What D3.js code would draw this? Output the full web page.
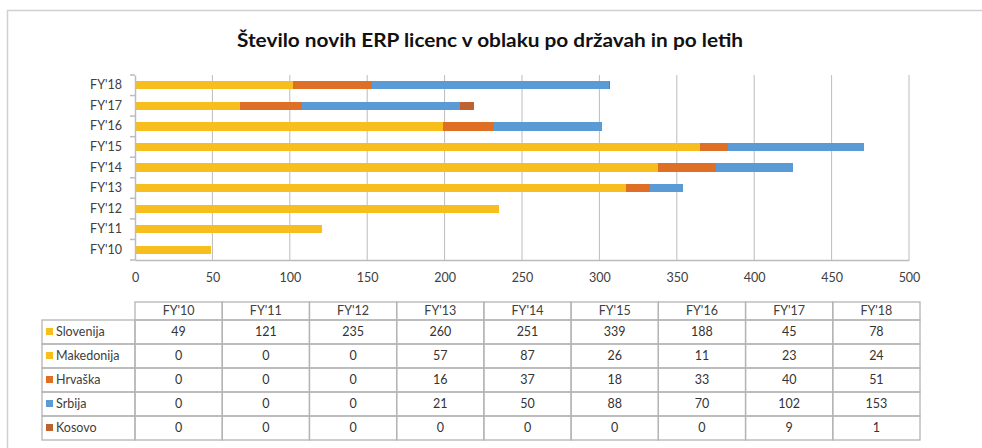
<!DOCTYPE html>
<html><head><meta charset="utf-8">
<script src="https://cdn.jsdelivr.net/npm/d3@7"></script>
<style>
html,body{margin:0;background:#fff;overflow:hidden;}
svg{display:block;font-family:Lato,"Open Sans",sans-serif;}
</style></head>
<body><svg id="c" width="982" height="448"></svg>
<script>
const years = ["FY'10","FY'11","FY'12","FY'13","FY'14","FY'15","FY'16","FY'17","FY'18"];
const seriesNames = ["Slovenija","Makedonija","Hrvaška","Srbija","Kosovo"];
const slovenija  = [49,121,235,260,251,339,188,45,78];
const makedonija = [0,0,0,57,87,26,11,23,24];
const hrvaska    = [0,0,0,16,37,18,33,40,51];
const srbija     = [0,0,0,21,50,88,70,102,153];
const kosovo     = [0,0,0,0,0,0,0,9,1];
const xTicks = [0,50,100,150,200,250,300,350,400,450,500];
const title = "Število novih ERP licenc v oblaku po državah in po letih";

const seriesValues = [slovenija, makedonija, hrvaska, srbija, kosovo];
const colors = ["#F8BE1D","#F8BE1D","#E06F26","#5B9BD5","#BE6230"];

const svg = d3.select("#c");
// outer frame (top and left edges only visible)
svg.append("line").attr("x1",7).attr("x2",982).attr("y1",10.5).attr("y2",10.5).attr("stroke","#d0d0d0").attr("stroke-width",1.5);
svg.append("line").attr("x1",7.5).attr("x2",7.5).attr("y1",10).attr("y2",448).attr("stroke","#d0d0d0").attr("stroke-width",1.5);

svg.append("text").attr("x",490).attr("y",47).attr("text-anchor","middle")
  .attr("font-size",19).attr("font-weight","bold").attr("fill","#111")
  .attr("textLength",506).attr("lengthAdjust","spacingAndGlyphs").text(title);

const x = d3.scaleLinear().domain([0,500]).range([135,909]);
const y = d3.scaleBand().domain(years.slice().reverse()).range([75,260]).paddingInner(0.6).paddingOuter(0.3);

// gridlines
svg.append("g").selectAll("line").data(xTicks.filter(d=>d>0)).join("line")
  .attr("x1",d=>x(d)).attr("x2",d=>x(d)).attr("y1",75).attr("y2",260)
  .attr("stroke","#bcbcbc").attr("stroke-width",1);

// stacked data
const rows = years.map((yr,i)=>{ const o={year:yr}; seriesNames.forEach((s,j)=>o[s]=seriesValues[j][i]); return o;});
const stack = d3.stack().keys(seriesNames)(rows);
svg.append("g").attr("shape-rendering","crispEdges").selectAll("g").data(stack).join("g").attr("fill",(d,i)=>colors[i])
  .selectAll("rect").data(d=>d).join("rect")
  .attr("x",d=>x(d[0])).attr("width",d=>x(d[1])-x(d[0]))
  .attr("y",d=>y(d.data.year)).attr("height",y.bandwidth());

// x axis
const xAxis = svg.append("g").attr("transform","translate(0,260)")
  .call(d3.axisBottom(x).tickValues(xTicks).tickSize(0).tickPadding(13));
xAxis.select(".domain").attr("stroke","#bcbcbc").attr("stroke-width",1.5);
xAxis.selectAll("text").attr("font-size",12.5).attr("fill","#404040").attr("font-family","Lato,sans-serif");

// y axis
const yAxis = svg.append("g").attr("transform","translate(135,0)")
  .call(d3.axisLeft(y).tickSize(0).tickPadding(13));
yAxis.select(".domain").attr("stroke","#bcbcbc").attr("stroke-width",1.5);
yAxis.selectAll("text").attr("font-size",12.5).attr("fill","#404040").attr("font-family","Lato,sans-serif");
// boundary ticks
const bounds = years.map(yr=>y(yr)-y.step()*y.paddingInner()/2).concat([260]);
yAxis.append("g").selectAll("line").data(bounds).join("line")
  .attr("x1",-5).attr("x2",0).attr("y1",d=>d).attr("y2",d=>d).attr("stroke","#bcbcbc").attr("stroke-width",1.5);

// data table
const col = d3.scaleBand().domain(years).range([135,920]);
const headTop = 302, headBot = 320, rowH = 24;
const rowY = i => headBot + i*rowH;
const tbl = svg.append("g");
const lineColor = "#b4b4b4";
// header cells
tbl.selectAll("rect.h").data(years).join("rect").attr("class","h")
  .attr("x",d=>col(d)).attr("y",headTop).attr("width",col.bandwidth()).attr("height",headBot-headTop)
  .attr("fill","none").attr("stroke",lineColor).attr("stroke-width",1.3);
tbl.selectAll("text.h").data(years).join("text").attr("class","h")
  .attr("x",d=>col(d)+col.bandwidth()/2).attr("y",(headTop+headBot)/2).attr("dy","0.35em")
  .attr("text-anchor","middle").attr("font-size",12.5).attr("fill","#404040").text(d=>d);
// body rows
seriesNames.forEach((s,j)=>{
  const g = tbl.append("g");
  g.append("rect").attr("x",42).attr("y",rowY(j)).attr("width",135-42).attr("height",rowH)
    .attr("fill","none").attr("stroke",lineColor).attr("stroke-width",1.3);
  g.append("rect").attr("x",46).attr("y",rowY(j)+rowH/2-4).attr("width",7).attr("height",7).attr("fill",colors[j]);
  g.append("text").attr("x",56).attr("y",rowY(j)+rowH/2).attr("dy","0.35em")
    .attr("font-size",12.5).attr("fill","#404040").text(s);
  g.selectAll("rect.c").data(seriesValues[j]).join("rect").attr("class","c")
    .attr("x",(d,i)=>col(years[i])).attr("y",rowY(j)).attr("width",col.bandwidth()).attr("height",rowH)
    .attr("fill","none").attr("stroke",lineColor).attr("stroke-width",1.3);
  g.selectAll("text.c").data(seriesValues[j]).join("text").attr("class","c")
    .attr("x",(d,i)=>col(years[i])+col.bandwidth()/2).attr("y",rowY(j)+rowH/2).attr("dy","0.35em")
    .attr("text-anchor","middle").attr("font-size",12.5).attr("fill","#333").text(d=>d);
});
</script></body></html>
